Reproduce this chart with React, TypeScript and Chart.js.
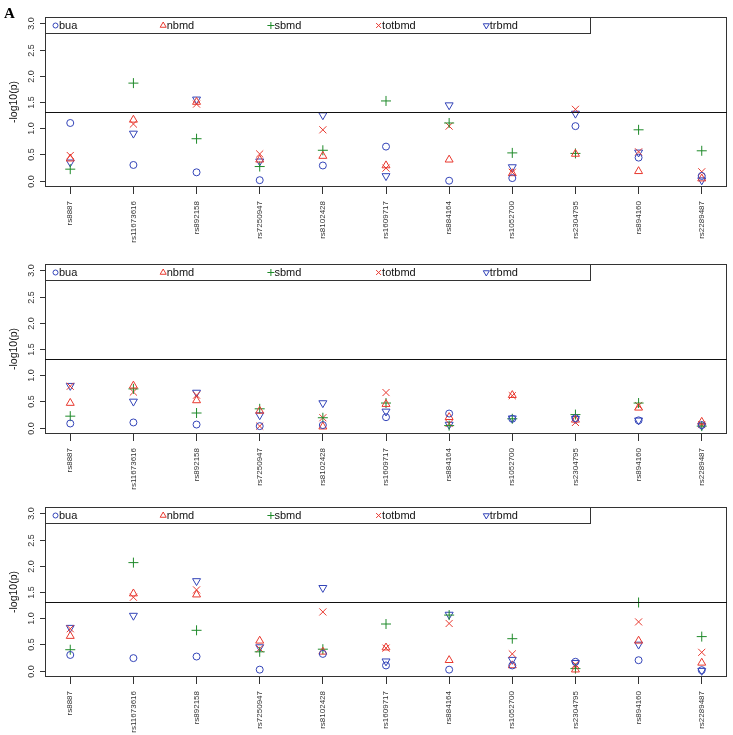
import React, { useEffect, useRef } from 'react';
import { Chart, registerables } from 'chart.js';
Chart.register(...registerables);

const snps = ['rs8887', 'rs11673616', 'rs892158', 'rs7250947', 'rs8102428', 'rs1609717', 'rs884164', 'rs1052700', 'rs2304795', 'rs894160', 'rs2289487'];
const seriesNames = ['bua', 'nbmd', 'sbmd', 'totbmd', 'trbmd'];
const yTicks = [0, 0.5, 1, 1.5, 2, 2.5, 3];
const yTickLabels = ['0.0', '0.5', '1.0', '1.5', '2.0', '2.5', '3.0'];
const threshold = 1.3;
const yTitle = '-log10(p)';
const panelLetter = 'A';

// Panel 1
const p1Bua = [1.10, 0.30, 0.16, 0.01, 0.29, 0.65, 0.00, 0.05, 1.04, 0.44, 0.09];
const p1Nbmd = [0.42, 1.16, 1.50, 0.40, 0.47, 0.29, 0.40, 0.14, 0.51, 0.18, 0.04];
const p1Sbmd = [0.22, 1.86, 0.80, 0.27, 0.58, 1.52, 1.10, 0.53, 0.52, 0.97, 0.57];
const p1Totbmd = [0.48, 1.08, 1.46, 0.51, 0.97, 0.24, 1.04, 0.16, 1.36, 0.55, 0.17];
const p1Trbmd = [0.35, 0.90, 1.55, 0.37, 1.25, 0.09, 1.44, 0.26, 1.28, 0.54, 0.01];

// Panel 2
const p2Bua = [0.08, 0.10, 0.06, 0.03, 0.05, 0.20, 0.27, 0.17, 0.18, 0.14, 0.05];
const p2Nbmd = [0.47, 0.80, 0.52, 0.32, 0.02, 0.45, 0.20, 0.62, 0.15, 0.38, 0.11];
const p2Sbmd = [0.22, 0.74, 0.28, 0.36, 0.19, 0.47, 0.04, 0.17, 0.25, 0.47, 0.03];
const p2Totbmd = [0.79, 0.68, 0.62, 0.03, 0.19, 0.67, 0.08, 0.61, 0.10, 0.42, 0.06];
const p2Trbmd = [0.80, 0.50, 0.67, 0.24, 0.47, 0.31, 0.06, 0.18, 0.17, 0.14, 0.04];

// Panel 3
const p3Bua = [0.30, 0.24, 0.27, 0.02, 0.32, 0.10, 0.02, 0.10, 0.17, 0.20, 0.01];
const p3Nbmd = [0.66, 1.47, 1.45, 0.57, 0.36, 0.44, 0.20, 0.10, 0.02, 0.57, 0.15];
const p3Sbmd = [0.40, 2.06, 0.77, 0.36, 0.41, 0.89, 1.06, 0.61, 0.04, 1.30, 0.65];
const p3Totbmd = [0.80, 1.40, 1.54, 0.42, 1.12, 0.43, 0.90, 0.32, 0.12, 0.93, 0.35];
const p3Trbmd = [0.82, 1.05, 1.71, 0.45, 1.58, 0.18, 1.07, 0.21, 0.15, 0.50, 0.00];

const BLUE = '#3344b8';
const RED = '#e8392f';
const GREEN = '#1f8a2a';
const FONT = '"Liberation Sans", Arial, Helvetica, sans-serif';

const seriesStyles = [
  { shape: 'circle', color: BLUE, radius: 3.5, rotation: 0 },
  { shape: 'triangle', color: RED, radius: 4.6, rotation: 0 },
  { shape: 'cross', color: GREEN, radius: 5, rotation: 0 },
  { shape: 'crossRot', color: RED, radius: 5, rotation: 0 },
  { shape: 'triangle', color: BLUE, radius: 4.6, rotation: 180 },
];

function drawSym(ctx: CanvasRenderingContext2D, shape: string, rot: number, x: number, y: number, r: number, color: string) {
  ctx.save();
  ctx.strokeStyle = color;
  ctx.lineWidth = 1;
  ctx.beginPath();
  if (shape === 'circle') {
    ctx.arc(x, y, r, 0, Math.PI * 2);
  } else if (shape === 'triangle') {
    let a = (rot * Math.PI) / 180;
    ctx.moveTo(x + Math.sin(a) * r, y - Math.cos(a) * r);
    for (let k = 0; k < 2; k++) {
      a += (2 * Math.PI) / 3;
      ctx.lineTo(x + Math.sin(a) * r, y - Math.cos(a) * r);
    }
    ctx.closePath();
  } else if (shape === 'cross') {
    ctx.moveTo(x - r, y); ctx.lineTo(x + r, y);
    ctx.moveTo(x, y - r); ctx.lineTo(x, y + r);
  } else {
    const d = r * 0.7071;
    ctx.moveTo(x - d, y - d); ctx.lineTo(x + d, y + d);
    ctx.moveTo(x - d, y + d); ctx.lineTo(x + d, y - d);
  }
  ctx.stroke();
  ctx.restore();
}

const rPlot = {
  id: 'rPlot',
  afterDraw(chart: any, _args: any, opts: any) {
    const { ctx, chartArea: a, scales } = chart;
    const ys = scales.y;
    ctx.save();
    const L = Math.round(a.left), T = Math.round(a.top), R = Math.round(a.right), B = Math.round(a.bottom);
    ctx.strokeStyle = '#333';
    ctx.lineWidth = 1;
    ctx.strokeRect(L + 0.5, T + 0.5, R - L - 1, B - T - 1);
    // threshold line
    const hy = Math.round(ys.getPixelForValue(threshold)) + 0.5;
    ctx.strokeStyle = '#111';
    ctx.beginPath(); ctx.moveTo(L, hy); ctx.lineTo(R, hy); ctx.stroke();
    // y ticks
    ctx.strokeStyle = '#333';
    ctx.fillStyle = '#333';
    ctx.font = `9px ${FONT}`;
    ctx.textAlign = 'center';
    ctx.textBaseline = 'middle';
    yTicks.forEach((v, i) => {
      const py = Math.round(ys.getPixelForValue(v)) + 0.5;
      ctx.beginPath(); ctx.moveTo(L - 5, py); ctx.lineTo(L, py); ctx.stroke();
      ctx.save();
      ctx.translate(L - 13, py);
      ctx.rotate(-Math.PI / 2);
      ctx.fillText(yTickLabels[i], 0, 0);
      ctx.restore();
    });
    // y title
    ctx.save();
    ctx.fillStyle = '#111';
    ctx.font = `10.5px ${FONT}`;
    ctx.translate(14, (a.top + a.bottom) / 2);
    ctx.rotate(-Math.PI / 2);
    ctx.fillText(yTitle, 0, 0);
    ctx.restore();
    // legend box
    ctx.strokeStyle = '#333';
    ctx.strokeRect(L + 0.5, T + 0.5, 545, 16);
    ctx.font = `11px ${FONT}`;
    ctx.textAlign = 'left';
    ctx.fillStyle = '#111';
    const ly = T + 8.5;
    seriesNames.forEach((name, i) => {
      const st = seriesStyles[i];
      const sx = L + 10.5 + i * 107.7;
      drawSym(ctx, st.shape, st.rotation, sx, ly, st.shape === 'circle' ? 2.5 : 3.5, st.color);
      ctx.fillText(name, sx + 3.5, ly);
    });
    if (opts && opts.letter) {
      ctx.fillStyle = '#000';
      ctx.font = `bold 15px "Liberation Serif", "Times New Roman", serif`;
      ctx.textAlign = 'left';
      ctx.textBaseline = 'alphabetic';
      ctx.fillText(panelLetter, 4, 18);
    }
    ctx.restore();
  },
};

function Panel({ top, values, letter }: { top: number; values: number[][]; letter: boolean }) {
  const ref = useRef<HTMLCanvasElement>(null);
  useEffect(() => {
    const chart = new Chart(ref.current as HTMLCanvasElement, {
      type: 'scatter',
      data: {
        datasets: seriesNames.map((name, si) => ({
          label: name,
          data: snps.map((_, i) => ({ x: i + 1, y: values[si][i] })),
          pointStyle: seriesStyles[si].shape as any,
          pointRadius: seriesStyles[si].radius,
          pointRotation: seriesStyles[si].rotation,
          borderColor: seriesStyles[si].color,
          backgroundColor: 'rgba(0,0,0,0)',
          pointBorderWidth: 1,
          showLine: false,
        })),
      },
      options: {
        animation: false,
        responsive: false,
        maintainAspectRatio: false,
        events: [],
        layout: { padding: { top: 17, right: 5, left: 0, bottom: 0 } },
        plugins: {
          legend: { display: false },
          tooltip: { enabled: false },
          rPlot: { letter },
        } as any,
        scales: {
          x: {
            type: 'linear',
            min: 0.6,
            max: 11.4,
            afterBuildTicks: (s: any) => { s.ticks = snps.map((_, i) => ({ value: i + 1 })); },
            afterFit: (s: any) => { s.height = 58; },
            ticks: {
              autoSkip: false,
              minRotation: 90,
              maxRotation: 90,
              padding: 7,
              color: '#333',
              font: { size: 8, family: FONT },
              callback: (_v: any, i: number) => snps[i],
            },
            grid: { display: true, drawOnChartArea: false, drawTicks: true, tickLength: 7, color: '#333' },
            border: { display: false },
          },
          y: {
            type: 'linear',
            min: -0.12,
            max: 3.12,
            afterFit: (s: any) => { s.width = 45; },
            ticks: { display: false },
            grid: { display: false },
            border: { display: false },
          },
        },
      } as any,
      plugins: [rPlot as any],
    });
    return () => chart.destroy();
  }, []);
  return (
    <canvas
      ref={ref}
      width={733}
      height={245}
      style={{ position: 'absolute', left: 0, top, width: 733, height: 245 }}
    />
  );
}

export default function App() {
  return (
    <div style={{ position: 'absolute', left: 0, top: 0, width: 733, height: 735, background: '#fff' }}>
      <Panel top={0} letter={true} values={[p1Bua, p1Nbmd, p1Sbmd, p1Totbmd, p1Trbmd]} />
      <Panel top={247} letter={false} values={[p2Bua, p2Nbmd, p2Sbmd, p2Totbmd, p2Trbmd]} />
      <Panel top={490} letter={false} values={[p3Bua, p3Nbmd, p3Sbmd, p3Totbmd, p3Trbmd]} />
    </div>
  );
}
